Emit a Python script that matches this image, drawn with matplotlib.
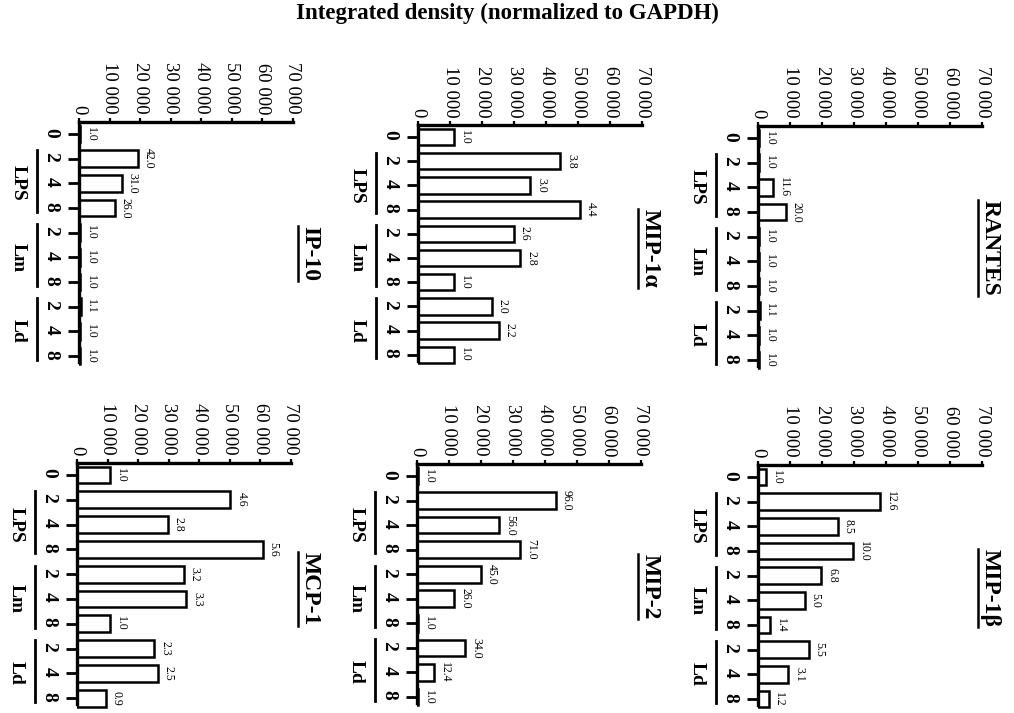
import matplotlib
matplotlib.use("Agg")
import matplotlib.pyplot as plt
import matplotlib.transforms as mtransforms
from matplotlib.lines import Line2D

W, H = 1014, 713
SERIF = "Liberation Serif"

# ---- data ----
categories = ["0", "2", "4", "8", "2", "4", "8", "2", "4", "8"]
group_names = ["LPS", "Lm", "Ld"]
group_first = [1, 4, 7]
group_last = [3, 6, 9]
value_ticks = [0, 10000, 20000, 30000, 40000, 50000, 60000, 70000]
value_tick_labels = ["0", "10 000", "20 000", "30 000", "40 000", "50 000", "60 000", "70 000"]

panel_names = ["IP-10", "MIP-1α", "RANTES", "MCP-1", "MIP-2", "MIP-1β"]

ip10 = [460, 19400, 14000, 11800, 460, 460, 460, 500, 460, 460]
ip10_fold = ["1.0", "42.0", "31.0", "26.0", "1.0", "1.0", "1.0", "1.1", "1.0", "1.0"]

mip1a = [11300, 44500, 35100, 50700, 29900, 32000, 11300, 23100, 25200, 11300]
mip1a_fold = ["1.0", "3.8", "3.0", "4.4", "2.6", "2.8", "1.0", "2.0", "2.2", "1.0"]

rantes = [440, 440, 4800, 8750, 440, 440, 440, 480, 440, 440]
rantes_fold = ["1.0", "1.0", "11.6", "20.0", "1.0", "1.0", "1.0", "1.1", "1.0", "1.0"]

mcp1 = [10900, 50200, 29700, 60800, 35000, 35800, 10900, 25300, 26400, 9500]
mcp1_fold = ["1.0", "4.6", "2.8", "5.6", "3.2", "3.3", "1.0", "2.3", "2.5", "0.9"]

mip2 = [450, 43500, 25700, 32300, 20100, 11700, 450, 15100, 5400, 450]
mip2_fold = ["1.0", "96.0", "56.0", "71.0", "45.0", "26.0", "1.0", "34.0", "12.4", "1.0"]

mip1b = [2400, 38000, 25000, 29700, 19800, 14600, 3900, 15900, 9400, 3300]
mip1b_fold = ["1.0", "12.6", "8.5", "10.0", "6.8", "5.0", "1.4", "5.5", "3.1", "1.2"]

panel_values = [ip10, mip1a, rantes, mcp1, mip2, mip1b]
panel_folds = [ip10_fold, mip1a_fold, rantes_fold, mcp1_fold, mip2_fold, mip1b_fold]

# ---- layout (pixels): axis x0, axis width, first category y, category spacing,
#      title x (axes fraction), title y (category units)
layout = [
    (79, 214, 134, 24.67, 1.08, 4.85),
    (418, 224, 137, 24.2, 1.036, 4.6),
    (758, 224, 138, 24.67, 1.036, 4.45),
    (77, 214, 475, 24.8, 1.089, 4.6),
    (417, 224, 476, 24.55, 1.04, 4.5),
    (758, 224, 477, 24.67, 1.036, 4.5),
]
YTOP, YBOT = -0.5, 9.45

fig = plt.figure(figsize=(W / 100, H / 100), dpi=100)
fig.patch.set_facecolor("white")

fig.text(0.5005, 1 - 13 / H, "Integrated density (normalized to GAPDH)",
         ha="center", va="center", fontsize=16.5, fontweight="bold", family=SERIF)

titles = []
for name, vals, folds, (x0, w, cat0, s, tx, ty) in zip(
        panel_names, panel_values, panel_folds, layout):
    top = cat0 + YTOP * s
    bottom = cat0 + YBOT * s
    ax = fig.add_axes([x0 / W, 1 - bottom / H, w / W, (bottom - top) / H])
    ax.set_facecolor("none")

    ax.barh(range(len(vals)), vals, height=0.68, color="white",
            edgecolor="black", linewidth=1.8, zorder=2)
    ax.set_xlim(0, 70000)
    ax.set_ylim(YBOT, YTOP)

    for sp in ["right", "bottom"]:
        ax.spines[sp].set_visible(False)
    for sp in ["top", "left"]:
        ax.spines[sp].set_linewidth(2.4)

    ax.xaxis.tick_top()
    ax.set_xticks(value_ticks, value_tick_labels, rotation=-90,
                  fontsize=13.5, family=SERIF)
    ax.tick_params(axis="x", direction="out", length=3, width=1.6, pad=2.5)
    ax.set_yticks(range(len(categories)), categories, rotation=-90,
                  fontsize=14, fontweight="bold", family=SERIF)
    ax.tick_params(axis="y", direction="out", length=8, width=2, pad=6)
    # left spine stops a little below the last category
    ax.spines["left"].set_bounds(9.25, YTOP)

    # fold-change labels at bar ends
    for i, (v, f) in enumerate(zip(vals, folds)):
        ax.annotate(f, (v, i), xytext=(3.5, 0), textcoords="offset points",
                    rotation=-90, ha="left", va="center", fontsize=8.5,
                    family=SERIF)

    # group brackets and names
    line_tr = mtransforms.offset_copy(ax.get_yaxis_transform(), fig=fig,
                                      x=-0.42, y=0, units="inches")
    name_tr = mtransforms.offset_copy(ax.get_yaxis_transform(), fig=fig,
                                      x=-0.61, y=0, units="inches")
    for g, a, b in zip(group_names, group_first, group_last):
        ax.plot([0, 0], [a - 0.35, b + 0.15], transform=line_tr,
                color="black", lw=2, clip_on=False)
        ax.text(0, (a + b) / 2, g, transform=name_tr, rotation=-90,
                ha="center", va="center", fontsize=14, fontweight="bold",
                family=SERIF)

    t = ax.text(tx, ty, name, transform=ax.get_yaxis_transform(),
                rotation=-90, ha="center", va="center", fontsize=17,
                fontweight="bold", family=SERIF)
    titles.append(t)

# underline the rotated panel titles
fig.canvas.draw()
for t in titles:
    bb = t.get_window_extent()
    x = bb.x0 - 1.5
    fig.add_artist(Line2D([x / W, x / W], [bb.y0 / H, bb.y1 / H],
                          transform=fig.transFigure, color="black", lw=1.8))

fig.savefig("out.png", dpi=100, facecolor="white")
